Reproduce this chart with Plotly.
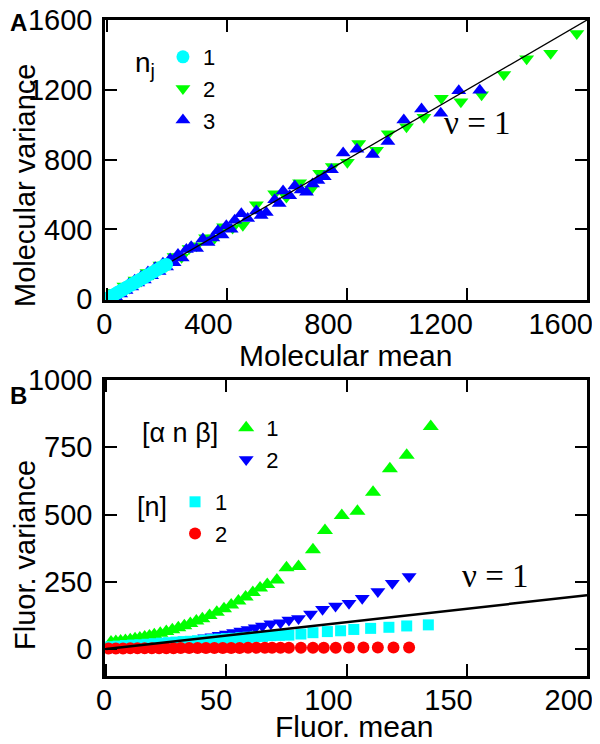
import plotly.graph_objects as go

# ---------------- Panel A data (molecular mean vs variance) ----------------
a_n1_mean = [2, 5, 8, 11, 14, 17, 20, 24, 28, 32, 36, 40, 45, 50, 55, 60, 65, 70, 76, 82,
             88, 94, 100, 106, 112, 118, 124, 130, 137, 144, 151, 158, 165, 172, 179, 186, 193, 200]
a_n1_var = [3, 4, 9, 10, 15, 16, 22, 23, 29, 31, 38, 39, 46, 49, 57, 58, 66, 69, 78, 80,
            90, 92, 102, 104, 114, 116, 126, 128, 139, 142, 153, 156, 167, 170, 181, 184, 195, 198]

a_n2_mean = [10, 24, 40, 58, 76, 95, 115, 135, 156, 178, 200, 225, 250, 275, 300, 330, 360, 390,
             420, 454, 499, 560, 599, 643, 682, 710, 752, 802, 840, 899, 938, 999, 1057, 1115,
             1180, 1249, 1323, 1399, 1479, 1566]
a_n2_var = [22, 38, 30, 75, 64, 110, 104, 152, 146, 196, 190, 244, 240, 290, 306, 352, 350, 415,
            408, 423, 541, 604, 585, 667, 631, 721, 760, 784, 892, 853, 948, 988, 1042, 1152,
            1131, 1171, 1288, 1378, 1409, 1523]

a_n3_mean = [6, 14, 22, 30, 38, 47, 56, 65, 74, 84, 94, 104, 115, 126, 138, 150, 162, 175, 188, 200,
             212, 225, 238, 252, 266, 282, 300, 321, 338, 354, 371, 385, 399, 415, 427, 449, 470,
             499, 515, 532, 560, 575, 588, 610, 627, 648, 666, 686, 704, 725, 749, 788, 834, 886,
             937, 990, 1049, 1113, 1173, 1243]
a_n3_var = [0, 4, 18, 14, 40, 30, 62, 50, 86, 70, 108, 92, 130, 110, 156, 134, 180, 158, 205, 184,
            230, 208, 256, 236, 285, 300, 290, 345, 325, 351, 392, 368, 420, 400, 452, 490, 462,
            505, 480, 496, 570, 548, 620, 592, 649, 625, 613, 660, 680, 702, 741, 838, 859, 829,
            903, 1027, 1090, 1065, 1195, 1198]

a_nu_line = [0, 1600]
a_ticks = [0, 400, 800, 1200, 1600]

# ---------------- Panel B data (fluorescence mean vs variance) ----------------
b_anb1_mean = [2, 4, 6, 8, 10, 12, 14, 16, 18, 20, 22.5, 25, 27.5, 30, 32.5, 35, 37.5, 40, 43, 46,
               49, 52, 55, 58, 61, 64, 67, 71, 75, 80, 86, 91, 98, 104.5, 111, 118, 125, 135]
b_anb1_var = [26, 28, 30, 32, 35, 38, 41, 45, 49, 53, 59, 65, 72, 79, 87, 95, 104, 113, 125, 137,
              150, 164, 179, 194, 210, 227, 240, 257, 302, 307, 369, 441, 496, 512, 583, 670, 720, 827]

b_anb2_mean = [2, 5, 8, 11, 14, 17, 20, 23, 26, 29, 32, 35, 38, 41, 44, 47, 50, 53, 56, 59, 62, 65,
               68.5, 72.5, 76, 80, 85, 90, 95.4, 101, 106.5, 113, 119, 126]
b_anb2_var = [6, 7, 8, 10, 12, 14, 17, 20, 23, 26, 29, 33, 37, 42, 46, 51, 56, 62, 67, 73, 79, 86,
              94, 98, 108, 114, 130, 148, 160, 170, 189, 214, 245, 270]

b_n1_mean = [2, 5, 8, 11, 14, 17, 20, 23, 26, 29, 32, 35, 38, 41, 44, 47, 50, 53, 56, 59, 62, 65,
             68.5, 72, 76, 81, 86, 92, 97.5, 103, 110, 117.6, 125, 134]
b_n1_var = [9, 11, 13, 15, 16, 18, 20, 22, 24, 26, 28, 29, 31, 33, 35, 37, 39, 40, 42, 44, 46, 47,
            50, 51, 52, 56, 61, 65, 68, 73, 77, 81, 86, 90]

b_n2_mean = [1, 4, 7, 10, 13, 16, 19, 22, 25, 28, 31, 34.5, 38, 41.5, 45, 48.5, 52, 55.5, 59, 62.5,
             66, 69, 72.5, 76, 81, 86, 90.5, 95.5, 101, 107, 113, 119.5, 126]
b_n2_var = [2, 2, 2, 3, 3, 3, 3, 3, 3, 3, 4, 4, 4, 4, 4, 4, 4, 4, 5, 5,
            5, 5, 5, 5, 5, 5, 5, 5, 6, 6, 6, 6, 6]

b_nu_line = [0, 200]
b_xticks = [0, 50, 100, 150, 200]
b_yticks = [0, 250, 500, 750, 1000]

CYAN = "#00ffff"
GREEN = "#00ff00"
BLUE = "#0000ff"
RED = "#ff0000"
SANS = "Liberation Sans, Arial, Helvetica, sans-serif"
SERIF = "Liberation Serif, Times New Roman, serif"

fig = go.Figure()

# Panel A traces (draw order: green, blue, line, cyan)
fig.add_trace(go.Scatter(x=a_n2_mean, y=a_n2_var, mode="markers", name="2",
                         marker=dict(symbol="triangle-down", size=13, color=GREEN),
                         xaxis="x", yaxis="y", legend="legend", legendrank=2))
fig.add_trace(go.Scatter(x=a_n3_mean, y=a_n3_var, mode="markers", name="3",
                         marker=dict(symbol="triangle-up", size=13, color=BLUE),
                         xaxis="x", yaxis="y", legend="legend", legendrank=3))
fig.add_trace(go.Scatter(x=a_nu_line, y=a_nu_line, mode="lines", showlegend=False,
                         line=dict(color="black", width=1.3), xaxis="x", yaxis="y"))
fig.add_trace(go.Scatter(x=a_n1_mean, y=a_n1_var, mode="markers", name="1",
                         marker=dict(symbol="circle", size=13, color=CYAN),
                         xaxis="x", yaxis="y", legend="legend", legendrank=1))

# Panel B traces
fig.add_trace(go.Scatter(x=b_anb1_mean, y=b_anb1_var, mode="markers", name="1",
                         marker=dict(symbol="triangle-up", size=14, color=GREEN),
                         xaxis="x2", yaxis="y2", legend="legend2", legendrank=1))
fig.add_trace(go.Scatter(x=b_anb2_mean, y=b_anb2_var, mode="markers", name="2",
                         marker=dict(symbol="triangle-down", size=13, color=BLUE),
                         xaxis="x2", yaxis="y2", legend="legend2", legendrank=2))
fig.add_trace(go.Scatter(x=b_n1_mean, y=b_n1_var, mode="markers", name="1",
                         marker=dict(symbol="square", size=11, color=CYAN),
                         xaxis="x2", yaxis="y2", legend="legend3", legendrank=1))
fig.add_trace(go.Scatter(x=b_n2_mean, y=b_n2_var, mode="markers", name="2",
                         marker=dict(symbol="circle", size=12, color=RED),
                         xaxis="x2", yaxis="y2", legend="legend3", legendrank=2))
fig.add_trace(go.Scatter(x=b_nu_line, y=b_nu_line, mode="lines", showlegend=False,
                         line=dict(color="black", width=2.5), xaxis="x2", yaxis="y2"))

axis_common = dict(
    showline=True, linewidth=2.5, linecolor="black", mirror="ticks",
    ticks="inside", ticklen=12, tickwidth=1.6, tickcolor="black",
    showgrid=False, zeroline=False, automargin=False, ticklabeloverflow="allow",
    tickfont=dict(family=SANS, size=29, color="black"),
)

# The page body adds an 8 px offset; the figure is sized to the visible area.
OFF = 8
W, H = 592, 736
ML, MR, MT, MB = 97, 13, 12, 68
PW = W - ML - MR
PH = H - MT - MB


def px(xp):
    return (xp - OFF - ML) / PW


def py(yp):
    return (H + OFF - MB - yp) / PH


fig.update_layout(
    width=W, height=H,
    margin=dict(l=ML, r=MR, t=MT, b=MB, autoexpand=False),
    paper_bgcolor="white", plot_bgcolor="white",
    font=dict(family=SANS, color="black"),
    xaxis=dict(domain=[0, 1], anchor="y", range=[-5, 1600], tickvals=a_ticks,
               ticklabelposition="outside left", ticklabelshift=8, ticklabelstandoff=-4,
               **axis_common),
    yaxis=dict(domain=[py(300), 1], anchor="x", range=[-5, 1600], tickvals=a_ticks,
               ticklabelstandoff=4, **axis_common),
    xaxis2=dict(domain=[0, 1], anchor="y2", range=[-0.5, 200], tickvals=b_xticks,
                ticklabelposition="outside left", ticklabelshift=8, ticklabelstandoff=-4,
                **axis_common),
    yaxis2=dict(domain=[0, py(380)], anchor="x2", range=[-100, 1000], tickvals=b_yticks,
                ticklabelstandoff=4, **axis_common),
    legend=dict(title=dict(text="n<sub>j</sub>", side="left",
                           font=dict(family=SANS, size=28)),
                x=px(133), y=py(36), xanchor="left", yanchor="top",
                bgcolor="rgba(0,0,0,0)", font=dict(family=SANS, size=22),
                tracegroupgap=0),
    legend2=dict(title=dict(text="[\u03b1 n \u03b2]", side="left",
                            font=dict(family=SANS, size=27)),
                 x=px(140), y=py(407), xanchor="left", yanchor="top",
                 bgcolor="rgba(0,0,0,0)", font=dict(family=SANS, size=22)),
    legend3=dict(title=dict(text="[n]", side="left",
                            font=dict(family=SANS, size=27)),
                 x=px(135), y=py(481), xanchor="left", yanchor="top",
                 bgcolor="rgba(0,0,0,0)", font=dict(family=SANS, size=22)),
)

annotations = [
    dict(text="<b>A</b>", x=px(18), y=py(23), font=dict(size=24)),
    dict(text="<b>B</b>", x=px(18), y=py(395), font=dict(size=24)),
    dict(text="Molecular variance", x=px(25), y=py(186), textangle=-90, font=dict(size=29)),
    dict(text="Fluor. variance", x=px(25), y=py(555), textangle=-90, font=dict(size=29)),
    dict(text="Molecular mean", x=px(345), y=py(355), font=dict(size=30)),
    dict(text="Fluor. mean", x=px(354), y=py(727), font=dict(size=30)),
]
for a in annotations:
    a.update(xref="paper", yref="paper", showarrow=False, xanchor="center", yanchor="middle")
    a["font"].update(family=SANS, color="black")
    fig.add_annotation(**a)

fig.add_annotation(text="\u03bd = 1", x=1237, y=1010, xref="x", yref="y", showarrow=False,
                   font=dict(family=SERIF, size=33, color="black"))
fig.add_annotation(text="\u03bd = 1", x=162, y=272, xref="x2", yref="y2", showarrow=False,
                   font=dict(family=SERIF, size=33, color="black"))

fig.write_html("out.html")
